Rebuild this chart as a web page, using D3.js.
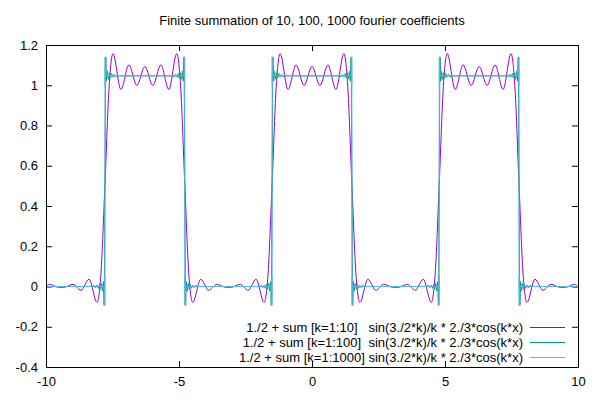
<!DOCTYPE html>
<html><head><meta charset="utf-8">
<script src="https://cdn.jsdelivr.net/npm/d3@7"></script>
<style>
body{margin:0;background:#fff;}
svg text{font-family:"Liberation Sans",Arial,sans-serif;font-size:13px;fill:#000;}
</style></head><body>
<svg id="chart" width="600" height="400"></svg>
<script>
const title = "Finite summation of 10, 100, 1000 fourier coefficients";
const seriesNames = [
  "1./2 + sum [k=1:10]   sin(3./2*k)/k * 2./3*cos(k*x)",
  "1./2 + sum [k=1:100]  sin(3./2*k)/k * 2./3*cos(k*x)",
  "1./2 + sum [k=1:1000] sin(3./2*k)/k * 2./3*cos(k*x)"
];
const seriesColors = ["#9400d3", "#009e73", "#56b4e9"];
const xTicks = [-10, -5, 0, 5, 10];
const xTickLabels = ["-10", "-5", "0", "5", "10"];
const yTicks = [-0.4, -0.2, 0, 0.2, 0.4, 0.6, 0.8, 1, 1.2];
const yTickLabels = ["-0.4", "-0.2", "0", "0.2", "0.4", "0.6", "0.8", "1", "1.2"];

// centres of the high plateaus (the pattern repeats around each one)
const periodCenters = [-12.566, -6.283, 0, 6.283, 12.566];

// one period of each curve, as offset from the plateau centre -> value
const offsets10 = [-3.0,-2.7,-2.4,-2.1,-1.8,-1.65,-1.5,-1.35,-1.2,-0.9,-0.6,-0.3,0,0.3,0.6,0.9,1.2,1.35,1.5,1.65,1.8,2.1,2.4,2.7,3.0,3.1416];
const values10  = [-0.003,0.011,-0.019,0.036,-0.079,0.067,0.508,0.981,1.157,0.979,1.101,0.999,1.093,0.999,1.101,0.979,1.157,0.981,0.508,0.067,-0.079,0.036,-0.019,0.011,-0.003,-0.004];

const offsets100 = [-3.0,-2.0,-1.9,-1.85,-1.8,-1.75,-1.71,-1.67,-1.63,-1.59,-1.56,-1.531,-1.5,-1.469,-1.44,-1.41,-1.37,-1.33,-1.29,-1.25,-1.2,-1.15,-1.1,-1.0,0,1.0,1.1,1.15,1.2,1.25,1.29,1.33,1.37,1.41,1.44,1.469,1.5,1.531,1.56,1.59,1.63,1.67,1.71,1.75,1.8,1.85,1.9,2.0,3.1416];
const values100  = [0,0,0.005,-0.006,0.007,-0.009,0.01,-0.013,0.015,-0.023,0.025,-0.094,0.524,1.141,1.02,1.07,1.03,1.062,1.036,1.058,1.04,1.054,1.042,1.047,1.047,1.047,1.042,1.054,1.04,1.058,1.036,1.062,1.03,1.07,1.02,1.141,0.524,-0.094,0.025,-0.023,0.015,-0.013,0.01,-0.009,0.007,-0.006,0.005,0,0];

const offsets1000 = [-3.0,-1.55,-1.5094,-1.5063,-1.5031,-1.5,-1.4969,-1.4937,-1.4906,-1.45,0,1.45,1.4906,1.4937,1.4969,1.5,1.5031,1.5063,1.5094,1.55,3.1416];
const values1000  = [0,0,-0.035,0.051,-0.094,0.524,1.141,0.996,1.082,1.047,1.047,1.047,1.082,0.996,1.141,0.524,-0.094,0.051,-0.035,0,0];

const profiles = [[offsets10, values10], [offsets100, values100], [offsets1000, values1000]];

const W = 600, H = 400;
const margin = {left: 46, right: 22, top: 45, bottom: 33};
const iw = W - margin.left - margin.right, ih = H - margin.top - margin.bottom;

const svg = d3.select("#chart");
const x = d3.scaleLinear().domain([-10, 10]).range([0, iw]);
const y = d3.scaleLinear().domain([-0.4, 1.2]).range([ih, 0]);

const g = svg.append("g").attr("transform", `translate(${margin.left},${margin.top})`);

svg.append("defs").append("clipPath").attr("id", "clip")
  .append("rect").attr("x", 0).attr("y", 0).attr("width", iw).attr("height", ih);

// axes with inward ticks on all four sides
const axB = d3.axisBottom(x).tickValues(xTicks).tickFormat((d, i) => xTickLabels[i]).tickSize(-6).tickPadding(10);
const axT = d3.axisTop(x).tickValues(xTicks).tickFormat("").tickSize(-6);
const axL = d3.axisLeft(y).tickValues(yTicks).tickFormat((d, i) => yTickLabels[i]).tickSize(-6).tickPadding(8);
const axR = d3.axisRight(y).tickValues(yTicks).tickFormat("").tickSize(-6);

function styleAxis(sel) {
  sel.select(".domain").remove();
  sel.selectAll("line").attr("stroke", "#000");
  sel.selectAll("text").attr("font-family", null).attr("font-size", null).attr("fill", "#000");
}
g.append("g").attr("transform", `translate(0,${ih})`).call(axB).call(styleAxis);
g.append("g").call(axT).call(styleAxis);
g.append("g").call(axL).call(styleAxis);
g.append("g").attr("transform", `translate(${iw},0)`).call(axR).call(styleAxis);

// curves
const line = d3.line().x(d => x(d.x)).y(d => y(d.y)).curve(d3.curveMonotoneX);
const plotG = g.append("g").attr("clip-path", "url(#clip)");
profiles.forEach(([offs, vals], si) => {
  const pts = [];
  periodCenters.forEach(c => offs.forEach((u, i) => pts.push({x: c + u, y: vals[i]})));
  plotG.append("path").datum(pts)
    .attr("fill", "none").attr("stroke", seriesColors[si]).attr("stroke-width", 1)
    .attr("d", line);
});

// border
g.append("rect").attr("x", 0.5).attr("y", 0.5).attr("width", iw).attr("height", ih)
  .attr("fill", "none").attr("stroke", "#000").attr("stroke-width", 1);

// title
svg.append("text").attr("x", margin.left + iw / 2).attr("y", 25)
  .attr("text-anchor", "middle").text(title);

// legend
const leg = g.append("g");
seriesNames.forEach((name, i) => {
  const ly = 282.5 + i * 15;
  leg.append("text").attr("x", 477).attr("y", ly + 4.5).attr("text-anchor", "end")
    .style("white-space", "pre").text(name);
  leg.append("line").attr("x1", 484).attr("x2", 519).attr("y1", ly).attr("y2", ly)
    .attr("stroke", seriesColors[i]).attr("stroke-width", 1);
});
</script>
</body></html>
